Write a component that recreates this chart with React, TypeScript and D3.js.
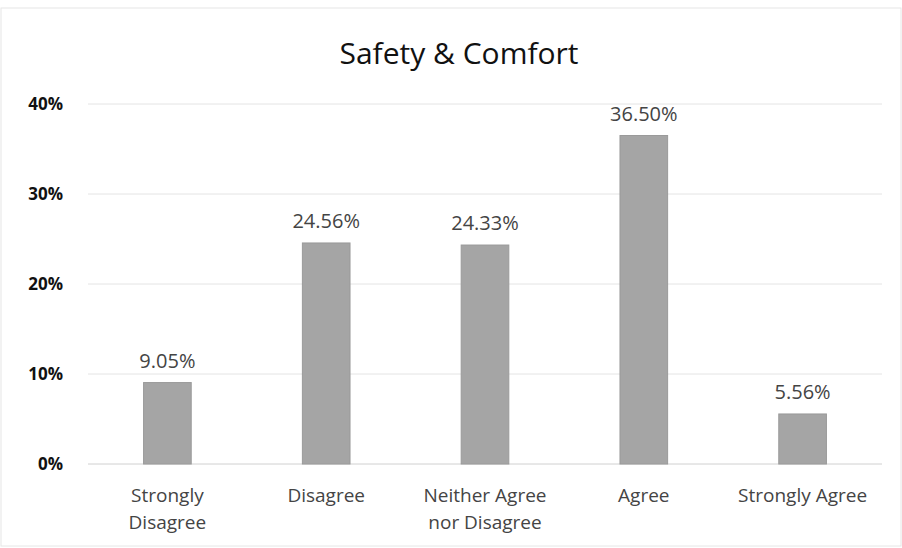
import React from "react";
import * as d3 from "d3";

const categories: string[][] = [
  ["Strongly", "Disagree"],
  ["Disagree"],
  ["Neither Agree", "nor Disagree"],
  ["Agree"],
  ["Strongly Agree"],
];
const values: number[] = [9.05, 24.56, 24.33, 36.5, 5.56];
const yTicks: number[] = [0, 10, 20, 30, 40];
const title = "Safety & Comfort";

const W = 902;
const H = 548;
const FONT = "'Open Sans', sans-serif";

export default function App() {
  const left = 88;
  const right = 882;
  const top = 104;
  const bottom = 464;
  const keys = categories.map((_, i) => String(i));
  const x = d3.scaleBand<string>().domain(keys).range([left, right]).paddingInner(0.7).paddingOuter(0.35);
  const y = d3.scaleLinear().domain([0, 40]).range([bottom, top]);

  return (
    <svg width={W} height={H} style={{ position: "absolute", left: 0, top: 0, background: "#fff" }}>
      <rect x={1} y={8} width={W - 2} height={H - 10} fill="#fff" stroke="#e6e6e6" strokeWidth={1} />
      <text x={459} y={64} textAnchor="middle" fontFamily={FONT} fontSize={30} fill="#111">
        {title}
      </text>
      {yTicks.map((t) => (
        <g key={t}>
          <line x1={left} x2={right} y1={y(t)} y2={y(t)} stroke={t === 0 ? "#d0d0d0" : "#e4e4e4"} strokeWidth={1} />
          <text x={63} y={y(t) + 6} textAnchor="end" fontFamily={FONT} fontWeight="bold" fontSize={17} fill="#111">
            {t}%
          </text>
        </g>
      ))}
      {values.map((v, i) => {
        const bx = x(String(i))!;
        const bw = x.bandwidth();
        return (
          <g key={i}>
            <rect x={bx} y={y(v)} width={bw} height={bottom - y(v)} fill="#a5a5a5" stroke="#9a9a9a" strokeWidth={1} />
            <text x={bx + bw / 2} y={y(v) - 15} textAnchor="middle" fontFamily={FONT} fontSize={20} fill="#444">
              {v.toFixed(2)}%
            </text>
            {categories[i].map((line, j) => (
              <text key={j} x={bx + bw / 2} y={502 + j * 27} textAnchor="middle" fontFamily={FONT} fontSize={19} fill="#444">
                {line}
              </text>
            ))}
          </g>
        );
      })}
    </svg>
  );
}
